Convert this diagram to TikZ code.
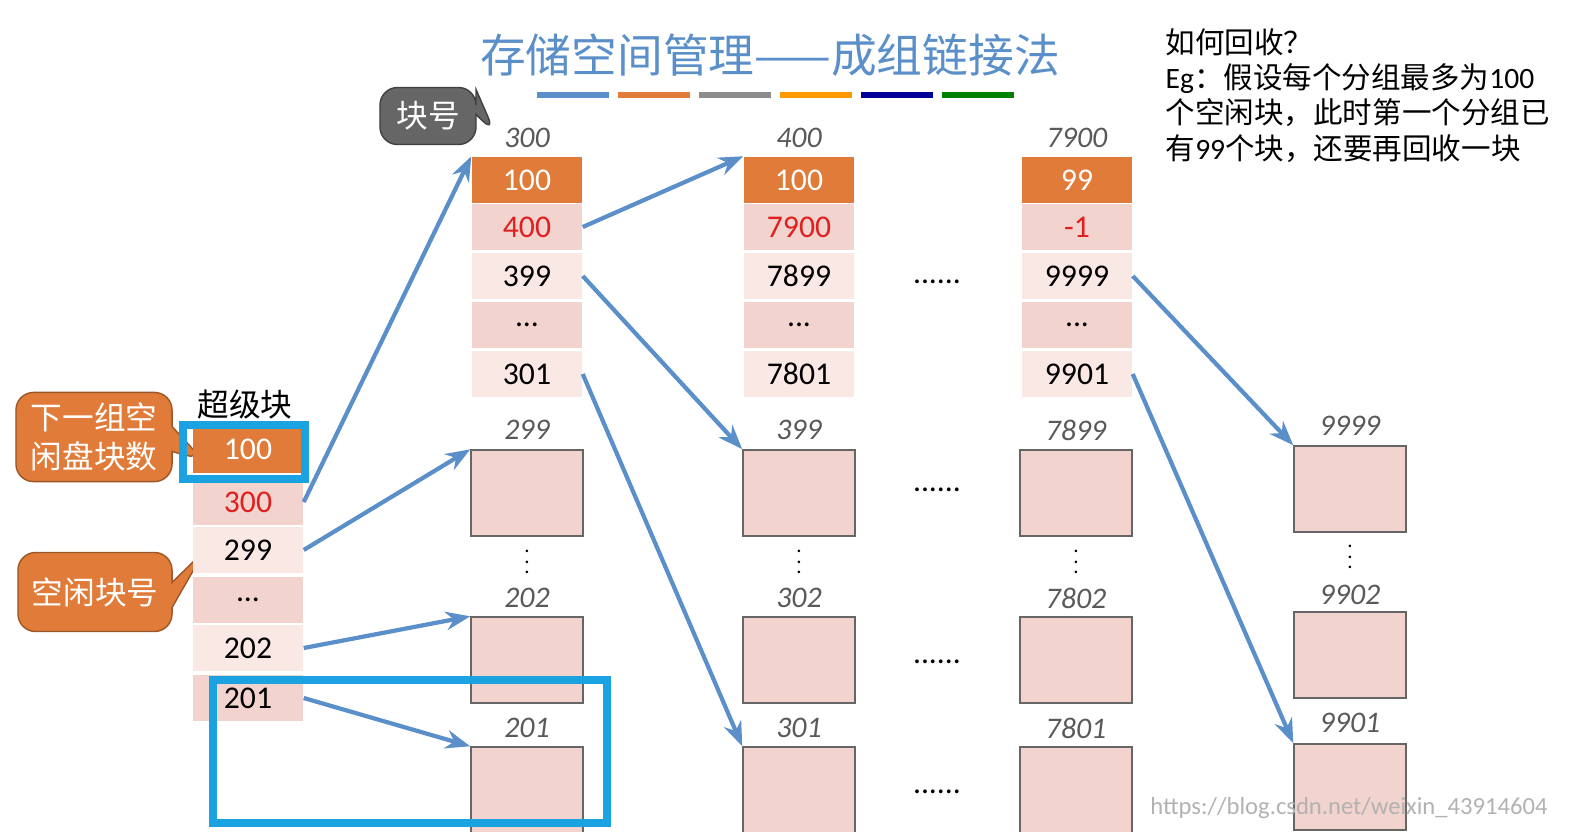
\documentclass[tikz,border=0pt]{standalone}
\usepackage{fontspec}
\setmainfont{Carlito}
\newfontfamily\cjk{Noto Sans CJK SC}
\usetikzlibrary{arrows.meta,shapes.callouts}
\definecolor{tblue}{HTML}{5B8FC9}
\definecolor{org}{HTML}{E07B39}
\definecolor{pk}{HTML}{F2D3CD}
\definecolor{lpk}{HTML}{FAE8E5}
\definecolor{hl}{HTML}{1AA3E0}
\definecolor{rd}{HTML}{E02020}
\begin{document}
\begin{tikzpicture}[x=0.01cm,y=-0.01cm,
 cell/.style={minimum width=1.1cm,minimum height=0.46cm,inner sep=0,font=\fontsize{9}{11}\selectfont},
 oc/.style={cell,fill=org,text=white},
 pc/.style={cell,fill=pk},
 lc/.style={cell,fill=lpk},
 hd/.style={font=\fontsize{8.5}{10}\selectfont\itshape,text=black!65},
 bx/.style={draw=black!60,fill=pk,minimum width=1.12cm,minimum height=0.86cm,inner sep=0},
 ar/.style={draw=tblue,line width=1.2pt,-{Stealth[length=7pt]}},
 vd/.style={font=\fontsize{6}{6}\selectfont,inner sep=0},
 dots/.style={font=\fontsize{9}{10}\selectfont},
 call/.style={rectangle callout,rounded corners=5pt,fill=org,draw=org!70!black,text=white,font=\cjk\fontsize{9}{11}\selectfont,align=center,inner sep=3pt}]
\useasboundingbox (0,0) rectangle (1591,839);
% title
\node[text=tblue,font=\cjk\fontsize{13}{15}\selectfont] (title) at (770,55) {存储空间管理——成组链接法};
\foreach \c [count=\i from 0] in {tblue,org,black!45,orange!80!yellow,blue!60!black,green!50!black}
  \fill[\c] (537+\i*81,92) rectangle (609+\i*81,98);
\node[anchor=north west,align=left,font=\cjk\fontsize{8.4}{10}\selectfont,inner sep=0] (note) at (1165,28)
 {如何回收？\\{\fontspec{Carlito}Eg}：假设每个分组最多为{\fontspec{Carlito}100}\\个空闲块，此时第一个分组已\\有{\fontspec{Carlito}99}个块，还要再回收一块};
% callouts
\node[call,fill=black!60,draw=black!75,minimum width=0.96cm,minimum height=0.57cm,callout absolute pointer={(495,133)}] (kh) at (428,116) {块号};
\node[call,minimum width=1.56cm,minimum height=0.79cm,callout absolute pointer={(203,460)}] (c1) at (94,437) {下一组空\\闲盘块数};
\node[call,minimum width=1.54cm,minimum height=0.79cm,callout absolute pointer={(205,550)}] (c2) at (95,592) {空闲块号};
% superblock
\node[font=\cjk\fontsize{9}{11}\selectfont] (sbl) at (245,404) {超级块};
\node[oc,minimum height=0.48cm] (s0) at (248,449) {100};
\node[pc,text=rd] (s1) at (248,502) {300};
\node[lc] (s2) at (248,550) {299};
\node[pc] (s3) at (248,600) {...};
\node[lc] (s4) at (248,648) {202};
\node[pc] (s5) at (248,698) {201};
\draw[hl,line width=2.5pt] (183,425) rectangle (305,479);
% top columns
\foreach \n/\x/\h/\a/\b/\c/\e in {A/527/300/100/400/399/301, B/799/400/100/7900/7899/7801, C/1077/7900/99/-1/9999/9901}{
 \node[hd] (\n h) at (\x,138) {\h};
 \node[oc] (\n0) at (\x,180) {\a};
 \node[pc,text=rd] (\n1) at (\x,227) {\b};
 \node[lc] (\n2) at (\x,276) {\c};
 \node[pc] (\n3) at (\x,325) {...};
 \node[lc] (\n4) at (\x,374) {\e};
}
\node[dots] (dt0) at (937,282) {......};
% lower boxes
\foreach \n/\x/\ha/\hb/\hc in {P/527/299/202/201, Q/799/399/302/301, R/1076/7899/7802/7801}{
 \node[hd] (\n ha) at (\x,430) {\ha};
 \node[bx] (\n1) at (\x,493) {};
 \node[vd,align=center] (\n v) at (\x,562) {.\\[-3pt].\\[-3pt].};
 \node[hd] (\n hb) at (\x,598) {\hb};
 \node[bx] (\n2) at (\x,660) {};
 \node[hd] (\n hc) at (\x,728) {\hc};
 \node[bx] (\n3) at (\x,790) {};
}
\node[hd] (Sha) at (1350,426) {9999};
\node[bx] (S1) at (1350,489) {};
\node[vd,align=center] (Sv) at (1350,557) {.\\[-3pt].\\[-3pt].};
\node[hd] (Shb) at (1350,595) {9902};
\node[bx] (S2) at (1350,655) {};
\node[hd] (Shc) at (1350,723) {9901};
\node[bx] (S3) at (1350,787) {};
\node[dots] (dt1) at (937,490) {......};
\node[dots] (dt2) at (937,662) {......};
\node[dots] (dt3) at (937,792) {......};
% arrows
\draw[ar] (s1.east) -- (A0.north west);
\draw[ar] (s2.east) -- (P1.north west);
\draw[ar] (s4.east) -- (P2.north west);
\draw[ar] (s5.east) -- (P3.north west);
\draw[ar] (A1.east) -- (B0.north west);
\draw[ar] (A2.east) -- (Q1.north west);
\draw[ar] (A4.east) -- (Q3.north west);
\draw[ar] (C2.east) -- (S1.north west);
\draw[ar] (C4.east) -- (S3.north west);
\draw[hl,line width=2.5pt] (213,680) rectangle (607,823);
\fill[white] (0,832) rectangle (1591,839);
\node[text=black!30,font=\fontsize{7}{8}\selectfont,anchor=east] (wm) at (1560,808) {https://blog.csdn.net/weixin\_43914604};
\end{tikzpicture}
\end{document}
